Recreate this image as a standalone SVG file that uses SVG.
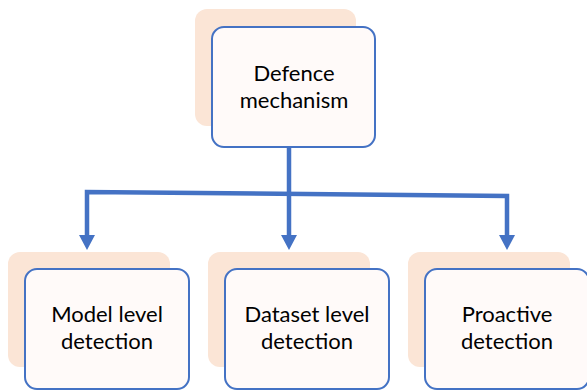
<svg xmlns="http://www.w3.org/2000/svg" width="587" height="390" viewBox="0 0 587 390">
<defs>
<style>
.bg{fill:#fbe5d6;}
.box{fill:#fffaf9;stroke:#4472c4;stroke-width:2;}
.t{font-family:Lato,"Liberation Sans",sans-serif;font-size:22px;fill:#000;text-anchor:middle;}
.c{fill:none;stroke:#4472c4;stroke-width:4.5;}
.ah{fill:#4472c4;}
</style>
</defs>
<rect width="587" height="390" fill="#fff"/>
<g id="connectors">
<line class="c" x1="289" y1="147" x2="289" y2="195"/>
<polyline class="c" points="87,236 87,192 507,196 507,236"/>
<line class="c" x1="289" y1="194" x2="289" y2="236"/>
<polygon class="ah" points="79,235 95,235 87,250"/>
<polygon class="ah" points="281,235 297,235 289,250"/>
<polygon class="ah" points="499,235 515,235 507,250"/>
</g>
<g id="defence">
<rect class="bg" x="195" y="9" width="161" height="117" rx="12"/>
<rect class="box" x="212" y="27" width="163" height="120" rx="12"/>
<text class="t" x="294" y="81">Defence</text>
<text class="t" x="294" y="108">mechanism</text>
</g>
<g id="model">
<rect class="bg" x="8" y="252" width="162" height="115" rx="12"/>
<rect class="box" x="25" y="269" width="164" height="120" rx="12"/>
<text class="t" x="107" y="322">Model level</text>
<text class="t" x="107" y="349">detection</text>
</g>
<g id="dataset">
<rect class="bg" x="208" y="252" width="162" height="115" rx="12"/>
<rect class="box" x="225" y="269" width="164" height="120" rx="12"/>
<text class="t" x="307" y="322">Dataset level</text>
<text class="t" x="307" y="349">detection</text>
</g>
<g id="proactive">
<rect class="bg" x="408" y="252" width="162" height="115" rx="12"/>
<rect class="box" x="425" y="269" width="164" height="120" rx="12"/>
<text class="t" x="507" y="322">Proactive</text>
<text class="t" x="507" y="349">detection</text>
</g>
</svg>
